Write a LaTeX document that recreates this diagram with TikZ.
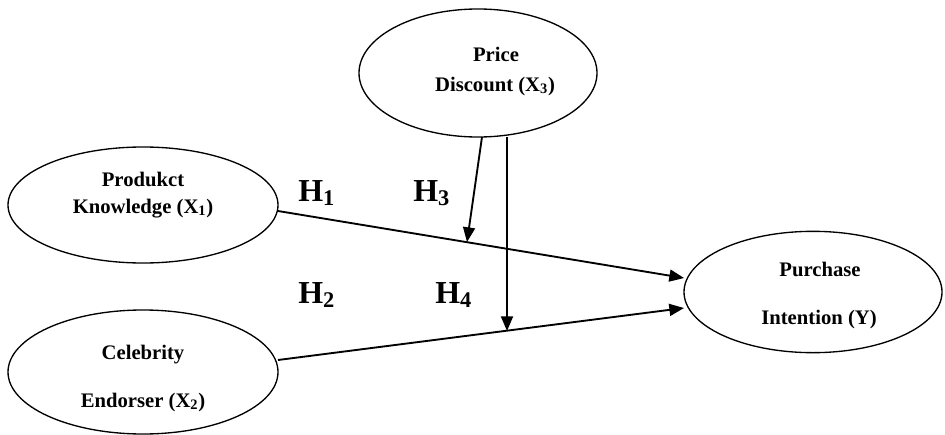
\documentclass[tikz,border=0pt]{standalone}
\usepackage{fontspec}
\setmainfont{Liberation Serif}
\usetikzlibrary{arrows.meta,shapes.geometric}
\tikzset{
  var/.style={draw, ellipse, line width=1pt, inner sep=0pt},
  vtext/.style={font=\fontsize{15.5}{18}\selectfont\bfseries, inner sep=0pt, anchor=base},
  hlab/.style={font=\fontsize{24}{28}\selectfont\bfseries, inner sep=0pt, anchor=base west},
  path/.style={line width=1.4pt, -{Triangle[length=11pt,width=9pt]}}
}
\newcommand{\sbs}[1]{\textsubscript{#1}}
\begin{document}
\begin{tikzpicture}[x=0.75pt,y=-0.75pt]
\useasboundingbox (0,0) rectangle (945,435);
% ellipses
\node[var, minimum width=202.5pt, minimum height=87pt] (x1) at (143,205) {};
\node[var, minimum width=202.5pt, minimum height=93pt] (x2) at (143,372) {};
\node[var, minimum width=178.5pt, minimum height=96pt] (x3) at (478,73) {};
\node[var, minimum width=193.5pt, minimum height=91pt] (y) at (813,292) {};
% texts
\node[vtext] (t1a) at (143,186) {Produkct};
\node[vtext] (t1b) at (143,213) {Knowledge (X\sbs{1})};
\node[vtext] (t2a) at (143,359) {Celebrity};
\node[vtext] (t2b) at (143,407) {Endorser (X\sbs{2})};
\node[vtext] (t3a) at (496,62) {Price};
\node[vtext] (t3b) at (495,91) {Discount (X\sbs{3})};
\node[vtext] (tya) at (820,276) {Purchase};
\node[vtext] (tyb) at (819,324) {Intention (Y)};
% hypothesis labels
\node[hlab] (h1) at (298,201) {H\sbs{1}};
\node[hlab] (h3) at (413,201) {H\sbs{3}};
\node[hlab] (h2) at (298,303) {H\sbs{2}};
\node[hlab] (h4) at (435,303) {H\sbs{4}};
% connector end points
\coordinate (p1s) at (278,211);
\coordinate (p1e) at (684,278);
\coordinate (p2s) at (278,360);
\coordinate (p2e) at (684,308);
\coordinate (p3s) at (482,137);
\coordinate (p3e) at (467,242);
\coordinate (p4s) at (507,137);
\coordinate (p4e) at (507,331);
\draw[path] (p1s) -- (p1e);
\draw[path] (p2s) -- (p2e);
\draw[path] (p3s) -- (p3e);
\draw[path] (p4s) -- (p4e);
\end{tikzpicture}
\end{document}
